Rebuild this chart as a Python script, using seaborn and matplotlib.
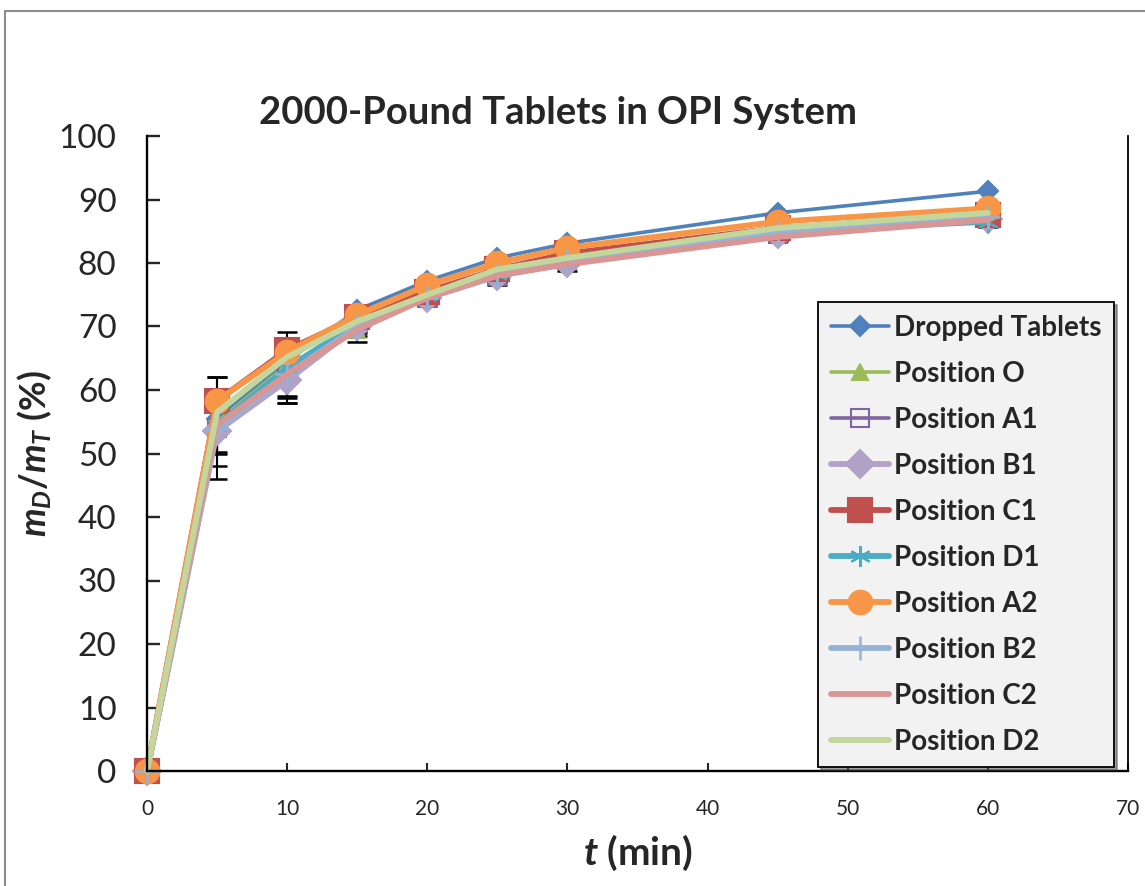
import matplotlib
matplotlib.use("Agg")
import matplotlib.pyplot as plt
from matplotlib.lines import Line2D
import seaborn as sns
import numpy as np

sns.set_theme(style="white")
plt.rcParams['font.family'] = ['Lato', 'DejaVu Sans']
plt.rcParams['mathtext.fontset'] = 'custom'
plt.rcParams['mathtext.rm'] = 'Lato:bold'
plt.rcParams['mathtext.it'] = 'Lato:bold:italic'
plt.rcParams['mathtext.bf'] = 'Lato:bold'

# ---- data ----
t = [0, 5, 10, 15, 20, 25, 30, 45, 60]
dropped = [0, 55.5, 64.5, 72.6, 77.2, 80.8, 83.1, 87.9, 91.3]
pos_o   = [0, 55.0, 64.0, 69.5, 75.0, 78.5, 81.0, 85.0, 88.0]
pos_a1  = [0, 54.0, 63.0, 70.5, 74.5, 78.0, 80.5, 84.5, 87.2]
pos_b1  = [0, 53.5, 61.5, 70.0, 74.5, 78.0, 80.0, 84.5, 87.0]
pos_c1  = [0, 58.3, 66.3, 71.5, 75.5, 79.0, 81.5, 85.5, 87.5]
pos_d1  = [0, 54.5, 63.5, 70.5, 75.0, 78.3, 80.5, 85.0, 86.5]
pos_a2  = [0, 58.3, 66.0, 71.8, 76.5, 80.0, 82.4, 86.5, 88.6]
pos_b2  = [0, 53.8, 62.5, 70.0, 74.5, 78.0, 80.3, 84.7, 87.2]
pos_c2  = [0, 54.5, 62.5, 69.5, 74.5, 78.0, 79.8, 84.1, 86.8]
pos_d2  = [0, 56.5, 65.2, 70.8, 75.0, 79.0, 80.8, 85.5, 87.9]

err_o  = [0, 7.0, 5.2, 2.0, 1.2, 1.3, 1.0, 1.2, 1.0]
err_a1 = [0, 8.0, 5.0, 1.5, 1.0, 1.5, 1.0, 1.0, 1.0]
err_b1 = [0, 3.3, 3.5, 1.5, 1.2, 1.0, 1.2, 0.8, 1.0]
err_d1 = [0, 4.5, 4.5, 1.2, 1.0, 1.2, 0.8, 1.0, 0.8]

labels = ["Dropped Tablets", "Position O", "Position A1", "Position B1",
          "Position C1", "Position D1", "Position A2", "Position B2",
          "Position C2", "Position D2"]
series = [dropped, pos_o, pos_a1, pos_b1, pos_c1, pos_d1, pos_a2, pos_b2, pos_c2, pos_d2]
errors = [None, err_o, err_a1, err_b1, None, err_d1, None, None, None, None]

colors = ["#4F81BD", "#9BBB59", "#8064A2", "#B3A2C7", "#C0504D", "#4BACC6",
          "#F79646", "#95B3D7", "#D99694", "#C3D69B"]
markers = ["D", "^", "s", "D", "s", (6, 2, 0), "o", "+", "None", "None"]
msizes = [10, 11, 13, 14, 17, 15, 17, 17, 0, 0]
lws = [2.6, 2.6, 2.6, 4.2, 4.2, 4.2, 4.2, 4.2, 4.2, 4.2]
mews = [1.5, 1.5, 1.5, 1.5, 1.5, 1.5, 1.5, 1.8, 1.5, 1.5]
mfcs = [None, None, "none", None, None, None, None, None, None, None]

fig = plt.figure(figsize=(11.45, 8.86), dpi=100)
ax = fig.add_axes([147/1145, 1 - 771/886, (1128-147)/1145, (771-136)/886])

for i, (lab, vals) in enumerate(zip(labels, series)):
    kw = dict(marker=markers[i], markersize=msizes[i], linewidth=lws[i],
              color=colors[i], label=lab, ax=ax, clip_on=False,
              markeredgecolor=colors[i], markeredgewidth=mews[i])
    if mfcs[i] is not None:
        kw['markerfacecolor'] = mfcs[i]
    sns.lineplot(x=t, y=vals, **kw)
    if errors[i] is not None:
        ax.errorbar(t, vals, yerr=errors[i], fmt='none', ecolor='black',
                    elinewidth=1.5, capsize=7, capthick=1.8, zorder=1.9 + i*0.01)

ax.set_xlim(0, 70)
ax.set_ylim(0, 100)
ax.set_xticks(np.arange(0, 71, 10))
ax.set_yticks(np.arange(0, 101, 10))
ax.tick_params(axis='y', direction='in', length=9, width=1.7, labelsize=24, pad=22)
ax.tick_params(axis='x', direction='in', length=6, width=1.5, labelsize=15, pad=20)
ax.tick_params(left=True, bottom=True)
for s in ['left', 'bottom', 'right']:
    ax.spines[s].set_color('black')
    ax.spines[s].set_linewidth(1.7)
ax.spines['top'].set_visible(False)
ax.spines['right'].set_linewidth(1.3)

ax.set_xlabel(r'$t$ (min)', fontsize=28, fontweight='bold', labelpad=10)
ax.set_ylabel(r'$m_D/m_T$ (%)', fontsize=26, fontweight='bold', labelpad=3)
ax.set_title('2000-Pound Tablets in OPI System', fontsize=27.5, fontweight='bold',
             x=(558-147)/981, pad=9)

leg = ax.legend(loc='lower left', bbox_to_anchor=(0.684, 0.006), fontsize=20,
                frameon=True, fancybox=False, shadow=True, framealpha=1,
                facecolor='#F2F2F2', edgecolor='black', handlelength=2.1,
                handletextpad=0.2, labelspacing=0.72, borderpad=0.45,
                borderaxespad=0)
leg.get_frame().set_linewidth(1.3)
for txt in leg.get_texts():
    txt.set_fontweight('bold')

# outer chart border (left and top)
fig.add_artist(Line2D([5/1145, 5/1145], [0, 1 - 11/886], color='#8C8C8C', lw=1.5,
                      transform=fig.transFigure))
fig.add_artist(Line2D([5/1145, 1], [1 - 11/886, 1 - 11/886], color='#8C8C8C', lw=1.5,
                      transform=fig.transFigure))

fig.savefig("out.png", dpi=100)
